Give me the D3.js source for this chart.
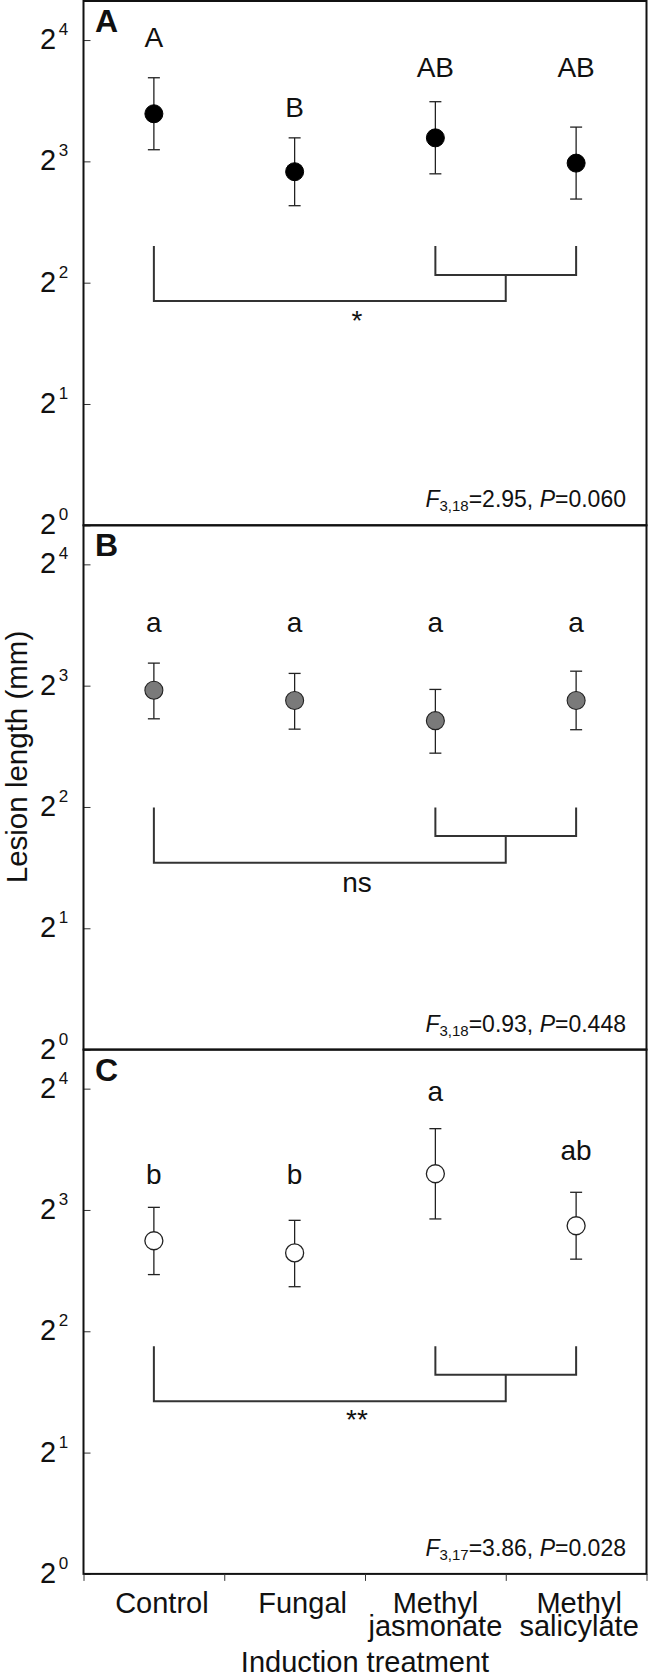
<!DOCTYPE html>
<html><head><meta charset="utf-8">
<script src="https://cdn.jsdelivr.net/npm/d3@7"></script>
<style>body{margin:0;background:#fff}text{font-family:"Liberation Sans",Arial,sans-serif;fill:#111}</style>
</head><body><svg id="c" width="648" height="1677"></svg>
<script>
// ---------- data ----------
const categories = ["Control", "Fungal", "Methyl jasmonate", "Methyl salicylate"];
const categoryLines = [["Control"], ["Fungal"], ["Methyl", "jasmonate"], ["Methyl", "salicylate"]];
const panelNames = ["A", "B", "C"];
const yTicks = [1, 2, 4, 8, 16];

const meanA  = [10.50, 7.54, 9.15, 7.92];
const upperA = [12.90, 9.15, 11.25, 9.73];
const lowerA = [8.55, 6.21, 7.45, 6.45];
const lettersA = ["A", "B", "AB", "AB"];
const letterAtA = [15.4, 10.32, 12.95, 12.95];

const meanB  = [7.79, 7.35, 6.55, 7.35];
const upperB = [9.10, 8.58, 7.83, 8.69];
const lowerB = [6.62, 6.24, 5.44, 6.22];
const lettersB = ["a", "a", "a", "a"];
const letterAtB = [10.87, 10.87, 10.87, 10.87];

const meanC  = [6.71, 6.26, 9.84, 7.31];
const upperC = [8.12, 7.54, 12.73, 8.85];
const lowerC = [5.53, 5.16, 7.60, 6.04];
const lettersC = ["b", "b", "a", "ab"];
const letterAtC = [9.30, 9.30, 14.88, 10.66];

// contrast brackets (values in mm on the log2 axis)
const bracketTop   = [4.93, 3.99, 3.67];
const bracketUpper = [4.18, 3.39, 3.12];
const bracketLower = [3.60, 2.91, 2.68];
const sigLabels    = ["*", "ns", "**"];
const sigLabelAt   = [3.05, 2.46, 2.29];

// ANOVA statistics
const statDf = ["3,18", "3,18", "3,17"];
const statF  = ["2.95", "0.93", "3.86"];
const statP  = ["0.060", "0.448", "0.028"];

// ---------- styling / layout ----------
const panels = [
  {mean: meanA, upper: upperA, lower: lowerA, letters: lettersA, letterAt: letterAtA, fill: "#000", stroke: "#000", sw: 1},
  {mean: meanB, upper: upperB, lower: lowerB, letters: lettersB, letterAt: letterAtB, fill: "#7a7a7a", stroke: "#222", sw: 1.1},
  {mean: meanC, upper: upperC, lower: lowerC, letters: lettersC, letterAt: letterAtC, fill: "#fff", stroke: "#222", sw: 1.3}
];
const left = 83.5, right = 646.5, top0 = 1, panelH = 524.3;
const labelDx = [8, 8, 0, 3];

const svg = d3.select("#c");
svg.append("rect").attr("width", 648).attr("height", 1677).attr("fill", "#fff");

const x = d3.scaleBand().domain(categories).range([left, right]);
const cx = c => x(c) + x.bandwidth() / 2;
const xb = d3.scaleLinear().domain([0, categories.length]).range([left, right]);

panels.forEach((p, i) => {
  const t = top0 + i * panelH, b = t + panelH;
  const y = d3.scaleLog().base(2).domain([1, 20]).range([b, t]);
  const g = svg.append("g");

  // y axis ticks (inward)
  const ax = g.append("g").attr("transform", `translate(${left},0)`)
    .call(d3.axisLeft(y).tickValues(yTicks).tickSize(-7).tickFormat(""));
  ax.select(".domain").remove();
  ax.selectAll(".tick line").attr("stroke", "#333").attr("stroke-width", 1);
  ax.selectAll(".tick text").each(function(d) {
    const tx = d3.select(this).attr("x", null).attr("dy", null)
      .attr("text-anchor", "start").attr("fill", "#111").attr("font-size", null);
    tx.text("");
    tx.append("tspan").attr("x", 40 - left).attr("y", 8.5).attr("font-size", 29).text("2");
    tx.append("tspan").attr("dx", 2.5).attr("dy", -14).attr("font-size", 17).text(Math.round(Math.log2(d)));
  });

  // frame
  g.append("rect").attr("x", left).attr("y", t).attr("width", right - left).attr("height", panelH)
    .attr("fill", "none").attr("stroke", "#111").attr("stroke-width", 2);

  // panel letter
  g.append("text").attr("x", 95).attr("y", t + 31).attr("font-size", 32).attr("font-weight", "bold").text(panelNames[i]);

  // brackets
  const bk = g.append("g").attr("fill", "none").attr("stroke", "#333").attr("stroke-width", 2);
  const xc0 = cx(categories[0]), xc2 = cx(categories[2]), xc3 = cx(categories[3]);
  const xm = (xc2 + xc3) / 2;
  bk.append("path").attr("d",
    `M${xc2},${y(bracketTop[i])}V${y(bracketUpper[i])}H${xc3}V${y(bracketTop[i])}`);
  bk.append("path").attr("d",
    `M${xc0},${y(bracketTop[i])}V${y(bracketLower[i])}H${xm}V${y(bracketUpper[i])}`);
  g.append("text").attr("x", xb(2) - 8).attr("y", y(sigLabelAt[i])).attr("text-anchor", "middle")
    .attr("font-size", 28).text(sigLabels[i]);

  // error bars
  const eb = g.append("g").attr("stroke", "#222").attr("stroke-width", 1.3);
  categories.forEach((c, j) => {
    const xx = cx(c);
    eb.append("line").attr("x1", xx).attr("x2", xx).attr("y1", y(p.upper[j])).attr("y2", y(p.lower[j]));
    eb.append("line").attr("x1", xx - 6).attr("x2", xx + 6).attr("y1", y(p.upper[j])).attr("y2", y(p.upper[j]));
    eb.append("line").attr("x1", xx - 6).attr("x2", xx + 6).attr("y1", y(p.lower[j])).attr("y2", y(p.lower[j]));
  });

  // points
  g.selectAll("circle.pt").data(categories).join("circle").attr("class", "pt")
    .attr("cx", c => cx(c)).attr("cy", (c, j) => y(p.mean[j])).attr("r", 9)
    .attr("fill", p.fill).attr("stroke", p.stroke).attr("stroke-width", p.sw);

  // letters
  g.selectAll("text.let").data(categories).join("text").attr("class", "let")
    .attr("x", c => cx(c)).attr("y", (c, j) => y(p.letterAt[j])).attr("text-anchor", "middle")
    .attr("font-size", 28).text((c, j) => p.letters[j]);

  // statistics
  const st = g.append("text").attr("x", 626).attr("y", b - 18).attr("text-anchor", "end").attr("font-size", 23);
  st.append("tspan").attr("font-style", "italic").text("F");
  st.append("tspan").attr("font-size", 15).attr("dy", 4).text(statDf[i]);
  st.append("tspan").attr("dy", -4).text("=" + statF[i] + ", ");
  st.append("tspan").attr("font-style", "italic").text("P");
  st.append("tspan").text("=" + statP[i]);

  if (i === panels.length - 1) {
    const xa = svg.append("g").attr("transform", `translate(0,${b})`)
      .call(d3.axisBottom(xb).tickValues(d3.range(categories.length + 1)).tickSize(7).tickFormat(""));
    xa.select(".domain").remove();
    xa.selectAll(".tick line").attr("stroke", "#333").attr("stroke-width", 1);
    categories.forEach((c, j) => {
      const tx = svg.append("text").attr("text-anchor", "middle").attr("font-size", 29);
      categoryLines[j].forEach((ln, k) => {
        tx.append("tspan").attr("x", cx(c) + labelDx[j]).attr("y", b + 39 + k * 23).text(ln);
      });
    });
    svg.append("text").attr("x", (left + right) / 2).attr("y", 1672).attr("text-anchor", "middle")
      .attr("font-size", 29).text("Induction treatment");
  }
});

// y axis title
svg.append("text").attr("transform", "translate(26.5,757) rotate(-90)").attr("text-anchor", "middle")
  .attr("font-size", 29.5).text("Lesion length (mm)");
</script></body></html>
